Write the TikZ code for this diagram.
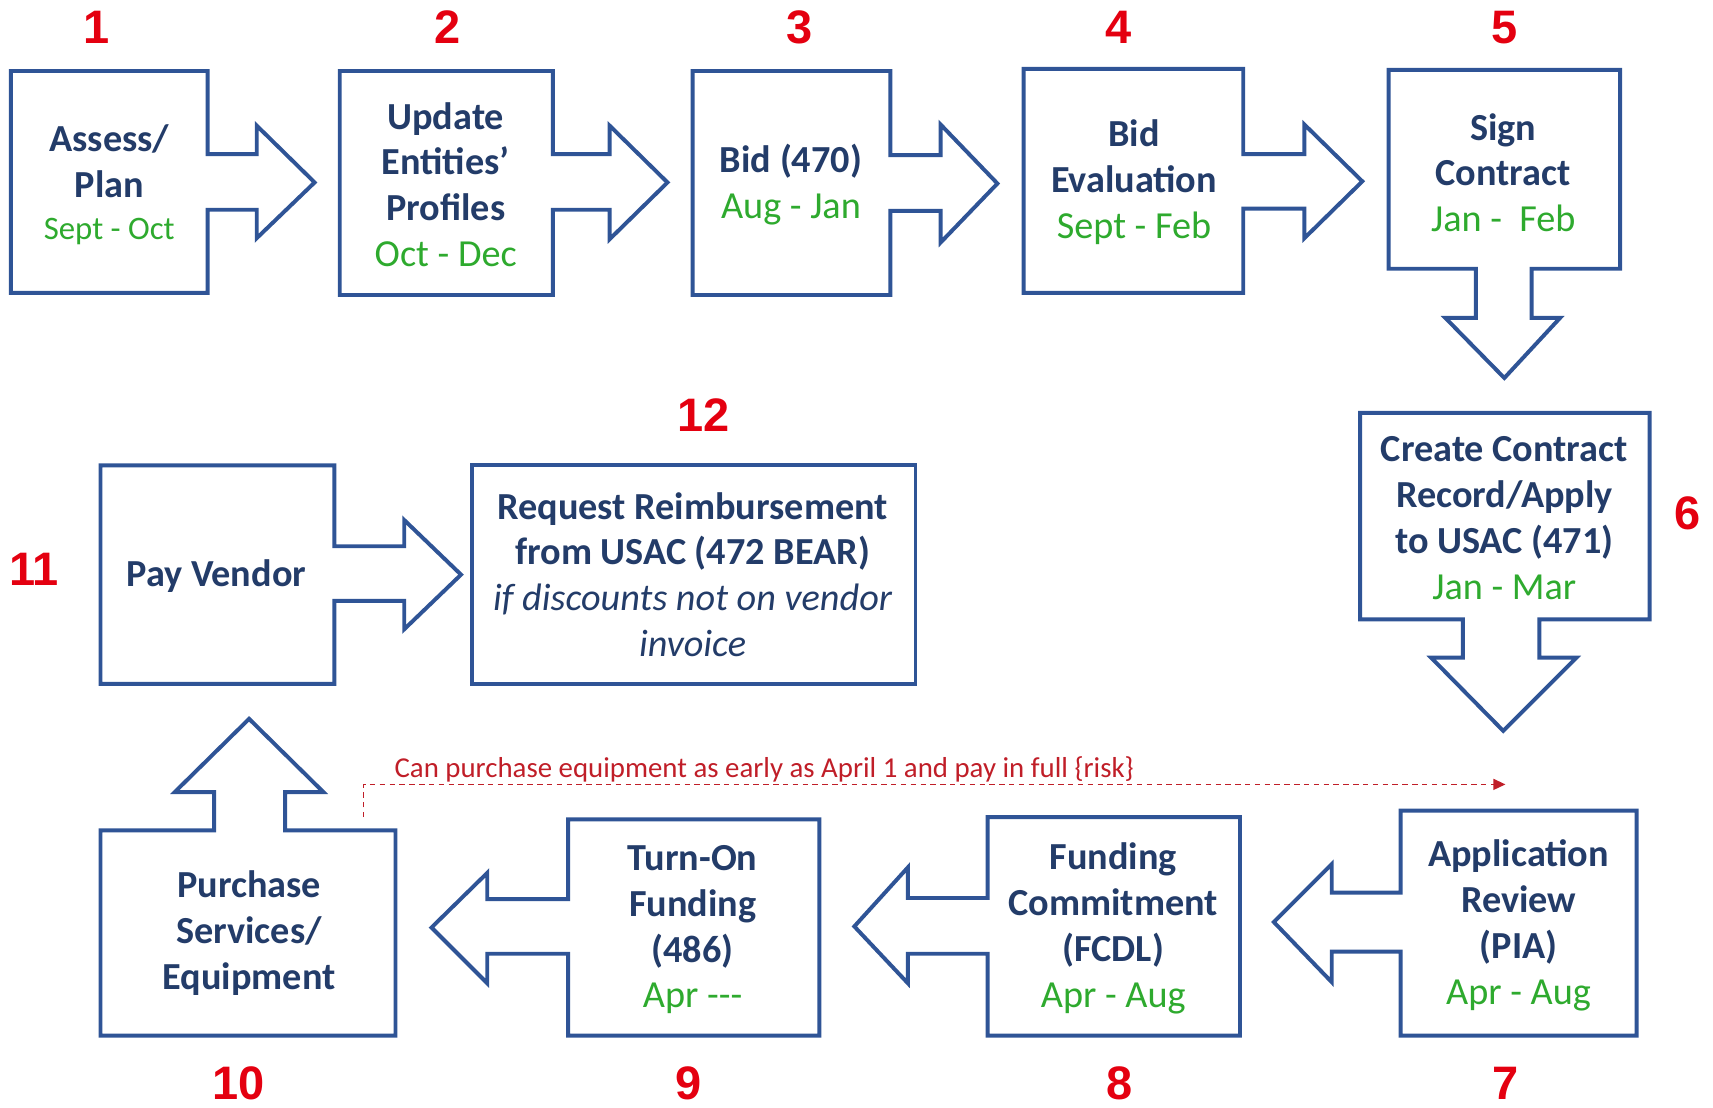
\documentclass[tikz,border=0pt]{standalone}
\usepackage{fontspec}
\setmainfont{Carlito}
\newfontfamily\numfont{Liberation Sans}
\usetikzlibrary{arrows.meta}
\definecolor{outl}{RGB}{47,84,150}
\definecolor{txtblue}{RGB}{35,60,105}
\definecolor{dategreen}{RGB}{46,170,46}
\definecolor{numred}{RGB}{228,0,16}
\definecolor{dashred}{RGB}{192,30,40}
\tikzset{
  shapeline/.style={draw=outl, line width=3.6pt, fill=white, line join=miter},
  stepbox/.style={draw=outl, line width=3.6pt, fill=white},
  steptext/.style={text=txtblue, align=center, inner sep=0pt,
    font=\fontsize{35}{42}\selectfont\bfseries},
  stepnum/.style={text=numred, inner sep=0pt, font=\numfont\fontsize{43}{43}\selectfont\bfseries},
  riskline/.style={draw=dashred, line width=1.4pt, dash pattern=on 5pt off 4pt},
}
\newcommand{\dt}[1]{{\mdseries\color{dategreen}#1}}
\begin{document}
\begin{tikzpicture}[x=1pt,y=-1pt]
\useasboundingbox (0,0) rectangle (1568,1014);
% ---- row 1
\draw[shapeline] (10,65) -- (190,65) -- (190,141) -- (235,141) -- (235,115) -- (288,167) -- (235,218) -- (235,192) -- (190,192) -- (190,268) -- (10,268) -- cycle;
\draw[shapeline] (311,65) -- (506,65) -- (506,141) -- (558,141) -- (558,115) -- (611,167) -- (558,219) -- (558,192) -- (506,192) -- (506,270) -- (311,270) -- cycle;
\draw[shapeline] (634,65) -- (815,65) -- (815,142) -- (861,142) -- (861,114) -- (913,168) -- (861,222) -- (861,193) -- (815,193) -- (815,270) -- (634,270) -- cycle;
\draw[shapeline] (937,63) -- (1138,63) -- (1138,141) -- (1194,141) -- (1194,114) -- (1247,166) -- (1194,218) -- (1194,191) -- (1138,191) -- (1138,268) -- (937,268) -- cycle;
\draw[shapeline] (1271,64) -- (1483,64) -- (1483,246) -- (1402,246) -- (1402,291) -- (1428,291) -- (1377,346) -- (1323,291) -- (1351,291) -- (1351,246) -- (1271,246) -- cycle;
% ---- right column
\draw[shapeline] (1245,378) -- (1510,378) -- (1510,567) -- (1409,567) -- (1409,602) -- (1443,602) -- (1376,669) -- (1310,602) -- (1339,602) -- (1339,567) -- (1245,567) -- cycle;
% ---- row 2
\draw[shapeline] (92,426) -- (306,426) -- (306,500) -- (370,500) -- (370,476) -- (422,526) -- (370,576) -- (370,550) -- (306,550) -- (306,626) -- (92,626) -- cycle;
\draw[stepbox] (432,426) rectangle (838,626);
% ---- row 3
\draw[shapeline] (92,760) -- (196,760) -- (196,725) -- (160,725) -- (228,658) -- (296,725) -- (261,725) -- (261,760) -- (362,760) -- (362,948) -- (92,948) -- cycle;
\draw[shapeline] (520,750) -- (750,750) -- (750,948) -- (520,948) -- (520,873) -- (446,873) -- (446,900) -- (395,849) -- (446,799) -- (446,823) -- (520,823) -- cycle;
\draw[shapeline] (904,748) -- (1135,748) -- (1135,948) -- (904,948) -- (904,873) -- (831,873) -- (831,900) -- (782,848) -- (831,794) -- (831,822) -- (904,822) -- cycle;
\draw[shapeline] (1282,742) -- (1498,742) -- (1498,948) -- (1282,948) -- (1282,871) -- (1219,871) -- (1219,899) -- (1166,844) -- (1219,791) -- (1219,817) -- (1282,817) -- cycle;
% ---- texts
\node[steptext] (s1) at (100,169) {Assess/\\Plan\\[-3pt]{\fontsize{30}{32}\selectfont\dt{Sept - Oct}}};
\node[steptext] (s2) at (408,169) {Update\\Entities’\\Profiles\\\dt{Oct - Dec}};
\node[steptext] (s3) at (724,169) {Bid (470)\\\dt{Aug - Jan}};
\node[steptext] (s4) at (1038,167) {Bid\\Evaluation\\\dt{Sept - Feb}};
\node[steptext] (s5) at (1376,158) {Sign\\Contract\\\dt{Jan -\ \ Feb}};
\node[steptext] (s6) at (1377,474) {Create Contract\\Record/Apply\\to USAC (471)\\\dt{Jan - Mar}};
\node[steptext] (s11) at (198,527) {Pay Vendor};
\node[steptext] (s12) at (634,526) {Request Reimbursement\\from USAC (472 BEAR)\\{\mdseries\itshape if discounts not on vendor}\\{\mdseries\itshape invoice}};
\node[steptext] (s10) at (228,854) {Purchase\\Services/\\Equipment};
\node[steptext] (s9) at (634,851) {Turn-On\\Funding\\(486)\\\dt{Apr -{}-{}-}};
\node[steptext] (s8) at (1019,850) {Funding\\Commitment\\(FCDL)\\\dt{Apr - Aug}};
\node[steptext] (s7) at (1390,847) {Application\\Review\\(PIA)\\\dt{Apr - Aug}};
% ---- numbers
\node[stepnum] (n1) at (88,25) {1};
\node[stepnum] (n2) at (410,25) {2};
\node[stepnum] (n3) at (732,25) {3};
\node[stepnum] (n4) at (1024,25) {4};
\node[stepnum] (n5) at (1377,25) {5};
\node[stepnum] (n6) at (1545,470) {6};
\node[stepnum] (n7) at (1378,992) {7};
\node[stepnum] (n8) at (1025,992) {8};
\node[stepnum] (n9) at (630,992) {9};
\node[stepnum] (n10) at (218,992) {10};
\node[stepnum] (n11) at (31,521) {11};
\node[stepnum] (n12) at (644,380) {12};
% ---- risk connector
\coordinate (rA) at (332.6,748);
\coordinate (rB) at (332.6,718);
\coordinate (rC) at (1378,718);
\draw[riskline, -{Triangle[length=11pt,width=10pt]}] (rA) -- (rB) -- (rC);
\node[text=dashred, anchor=base west, inner sep=0pt, font=\fontsize{26.4}{28}\selectfont] (risk) at (361,712) {Can purchase equipment as early as April 1 and pay in full \{risk\}};
\end{tikzpicture}
\end{document}
